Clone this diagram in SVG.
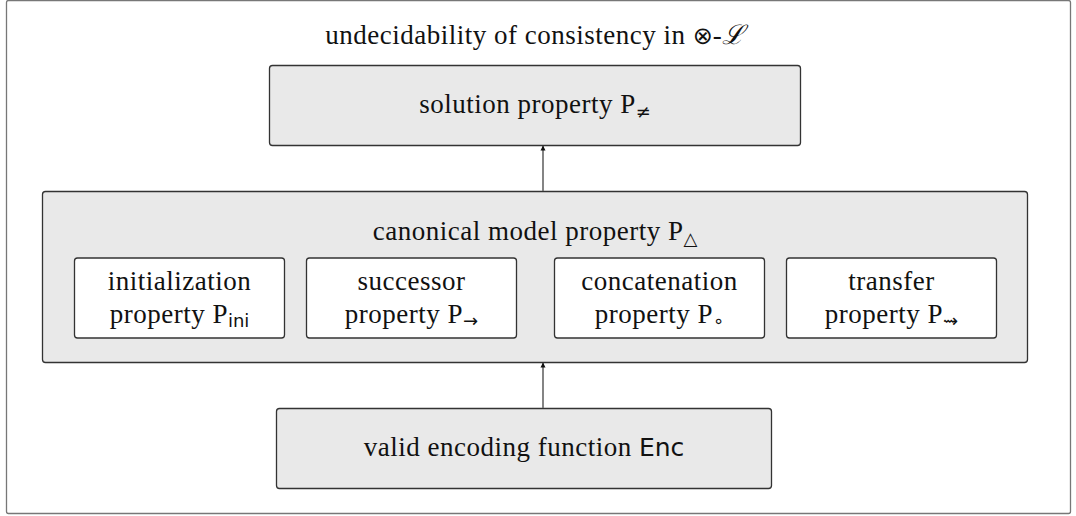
<svg xmlns="http://www.w3.org/2000/svg" width="1076" height="516" viewBox="0 0 1076 516">
<style>
text{font-family:"Liberation Serif","DejaVu Serif",serif;font-size:27px;letter-spacing:0.5px;fill:#111;text-anchor:middle}
.sub{font-size:18px;letter-spacing:0}
.sym{font-family:"DejaVu Sans",sans-serif;letter-spacing:0;font-weight:normal}
.sf{font-family:"DejaVu Sans","Liberation Sans",sans-serif;letter-spacing:0}
.box{fill:#e9e9e9;stroke:#333;stroke-width:1.3}
.inner{fill:#fff;stroke:#333;stroke-width:1.3}
.edge{stroke:#666;stroke-width:1.6;fill:none;marker-end:url(#ah)}
</style>
<defs>
<marker id="ah" viewBox="0 0 10 10" refX="9" refY="5" markerWidth="5" markerHeight="6" markerUnits="userSpaceOnUse" orient="auto"><path d="M0,0 L10,5 L0,10 z" fill="#111"/></marker>
</defs>
<rect x="6.5" y="0.5" width="1064" height="513" fill="#fff" stroke="#777" stroke-width="1.3" rx="2"/>
<text x="535" y="44">undecidability of consistency in <tspan class="sym" font-size="24">⊗</tspan>-<tspan font-style="italic">ℒ</tspan></text>
<g id="solution">
<rect class="box" x="269.5" y="65.5" width="531" height="80" rx="3"/>
<text x="535" y="113">solution property P<tspan class="sub sym" dy="5">≠</tspan></text>
</g>
<g id="canonical">
<rect class="box" x="42.5" y="191.5" width="985" height="171" rx="3"/>
<text x="535" y="240">canonical model property P<tspan class="sub sym" dy="5">△</tspan></text>
</g>
<g id="ini">
<rect class="inner" x="74.5" y="258" width="210" height="80" rx="3"/>
<text x="179.5" y="290">initialization</text>
<text x="179.5" y="323">property P<tspan class="sub sf" dy="4">ini</tspan></text>
</g>
<g id="succ">
<rect class="inner" x="306.5" y="258" width="210" height="80" rx="3"/>
<text x="411.5" y="290">successor</text>
<text x="411.5" y="323">property P<tspan class="sub sym" dy="4">→</tspan></text>
</g>
<g id="concat">
<rect class="inner" x="554.5" y="258" width="210" height="80" rx="3"/>
<text x="659.5" y="290">concatenation</text>
<text x="659.5" y="323">property P<tspan class="sub sym" dy="4">∘</tspan></text>
</g>
<g id="transfer">
<rect class="inner" x="786.5" y="258" width="210" height="80" rx="3"/>
<text x="891.5" y="290">transfer</text>
<text x="891.5" y="323">property P<tspan class="sub sym" dy="4">⇝</tspan></text>
</g>
<g id="enc">
<rect class="box" x="276.5" y="408.5" width="495" height="80" rx="3"/>
<text x="524" y="456">valid encoding function <tspan class="sf" font-size="25">Enc</tspan></text>
</g>
<g id="connectors">
<line class="edge" x1="543" y1="191" x2="543" y2="146"/>
<line class="edge" x1="543" y1="408" x2="543" y2="363"/>
</g>
</svg>
